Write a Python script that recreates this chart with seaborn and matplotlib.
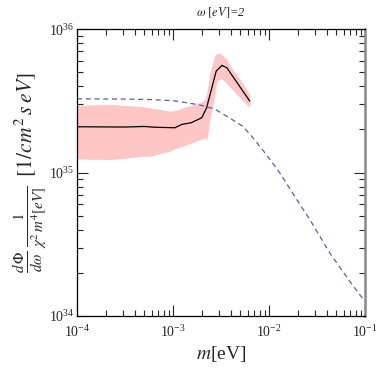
import numpy as np
import matplotlib
matplotlib.use("Agg")
import matplotlib.pyplot as plt
import seaborn as sns
from matplotlib.ticker import LogLocator, NullFormatter

# values (log10 of mass in eV, log10 of flux)
line_logm = [-4.0, -3.5, -3.3, -3.2, -2.98, -2.91, -2.81, -2.70, -2.65, -2.60, -2.55, -2.49, -2.44, -2.20]
line_logf = [35.320, 35.318, 35.322, 35.317, 35.313, 35.336, 35.348, 35.383, 35.452, 35.580, 35.708, 35.748, 35.732, 35.499]

band_logm = [-4.0, -3.66, -3.31, -3.24, -3.03, -2.96, -2.90, -2.70, -2.67, -2.65, -2.615, -2.56, -2.545,
             -2.51, -2.49, -2.44, -2.40, -2.30, -2.20]
band_upper = [35.47, 35.476, 35.46, 35.452, 35.429, 35.435, 35.452, 35.492, 35.51, 35.55, 35.70, 35.825, 35.83,
              35.832, 35.82, 35.79, 35.74, 35.65, 35.545]
band_lower = [35.096, 35.091, 35.114, 35.114, 35.15, 35.173, 35.184, 35.235, 35.243, 35.219, 35.371, 35.56, 35.638,
              35.65, 35.655, 35.62, 35.592, 35.52, 35.452]

dash_logm = [-4.0, -3.5, -3.25, -3.0, -2.893, -2.719, -2.5625, -2.406, -2.268, -2.164, -2.024, -1.885,
             -1.747, -1.573, -1.365, -1.156, -1.0]
dash_logf = [35.515, 35.513, 35.51, 35.502, 35.491, 35.472, 35.442, 35.38, 35.321, 35.24, 35.123, 34.996,
             34.85, 34.671, 34.438, 34.24, 34.10]

sns.set_style("ticks")
plt.rcParams["font.family"] = ["Liberation Serif", "DejaVu Serif"]
plt.rcParams["mathtext.fontset"] = "stix"

fig = plt.figure(figsize=(3.79, 3.74), dpi=100)
ax = fig.add_axes([0.2032, 0.155, 0.7598, 0.7668])

ax.fill_between(10 ** np.array(band_logm), 10 ** np.array(band_lower), 10 ** np.array(band_upper),
                color="#ffc6c6", linewidth=0, zorder=1)
sns.lineplot(x=10 ** np.array(dash_logm), y=10 ** np.array(dash_logf), ax=ax, color="#5c5cae",
             linewidth=0.9, linestyle=(0, (4, 3)), zorder=2)
sns.lineplot(x=10 ** np.array(line_logm), y=10 ** np.array(line_logf), ax=ax, color="black",
             linewidth=0.9, zorder=3)

ax.set_xscale("log")
ax.set_yscale("log")
ax.set_xlim(1e-4, 1e-1)
ax.set_ylim(1e34, 1e36)

ax.xaxis.set_major_locator(LogLocator(base=10, numticks=10))
ax.xaxis.set_minor_locator(LogLocator(base=10, subs=np.arange(2, 10), numticks=20))
ax.yaxis.set_major_locator(LogLocator(base=10, numticks=10))
ax.yaxis.set_minor_locator(LogLocator(base=10, subs=np.arange(2, 10), numticks=20))
ax.xaxis.set_minor_formatter(NullFormatter())
ax.yaxis.set_minor_formatter(NullFormatter())

ax.tick_params(which="both", direction="in", top=True, right=True, labelsize=10)
ax.tick_params(axis="x", which="major", pad=6)
ax.tick_params(axis="y", which="major", pad=2)
ax.tick_params(which="major", length=8, width=0.8)
ax.tick_params(which="minor", length=4, width=0.8)

for side in ["left", "bottom", "top"]:
    ax.spines[side].set_linewidth(0.9)
    ax.spines[side].set_color("black")
ax.spines["right"].set_linewidth(1.8)
ax.spines["right"].set_color("#888888")

ax.set_title(r"$\omega$ $[eV]$=2", fontsize=9, style="italic", pad=9)
ax.set_xlabel(r"$m$[eV]", fontsize=14, labelpad=3)
ax.set_ylabel(r"$\frac{d\,\Phi}{d\omega}\,\frac{1}{\chi^2\,m^4[eV]}\;\;[1/cm^2\,s\;eV]$", fontsize=15.5, labelpad=0)

plt.savefig("out.png", dpi=100)
plt.close()
